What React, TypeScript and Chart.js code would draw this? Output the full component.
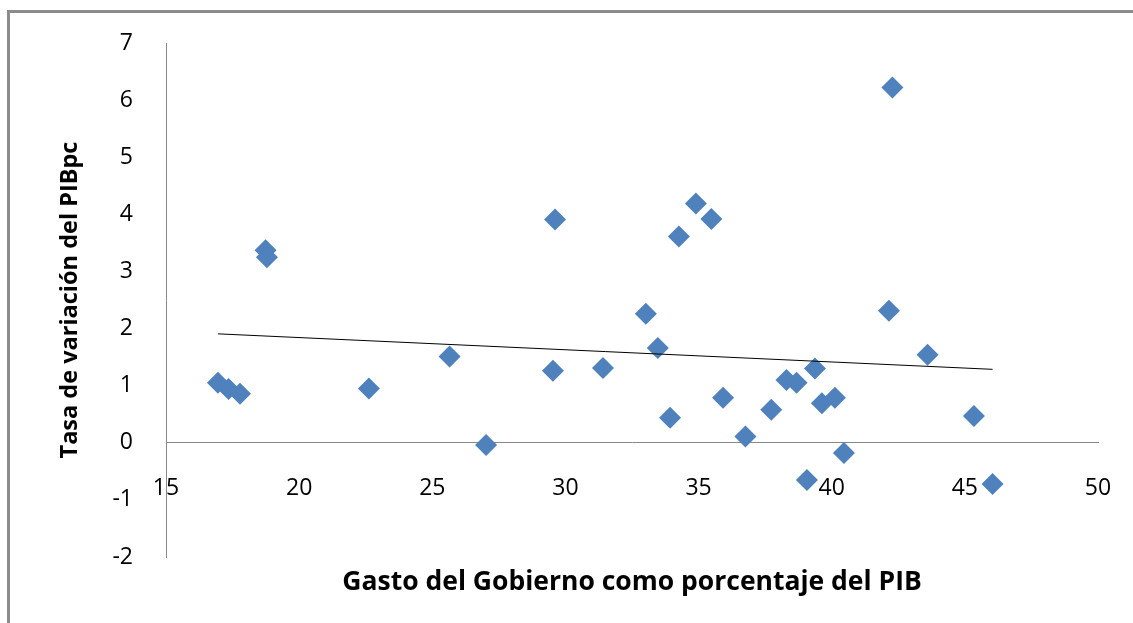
import { useEffect, useRef } from "react";
import { Chart, registerables } from "chart.js";

Chart.register(...registerables);

// Gasto del Gobierno como porcentaje del PIB (x)
const gastoPIB = [
  16.95, 17.35, 17.78, 18.74, 18.79, 22.62, 25.65, 27.02, 29.53, 29.61, 31.41,
  33.02, 33.47, 33.93, 34.26, 34.9, 35.48, 35.92, 36.76, 37.73, 38.3, 38.68,
  39.07, 39.37, 39.63, 40.12, 40.46, 42.15, 42.28, 43.6, 45.34, 46.04,
];
// Tasa de variación del PIBpc (y)
const tasaPIBpc = [
  1.05, 0.94, 0.86, 3.37, 3.25, 0.95, 1.51, -0.04, 1.26, 3.91, 1.31, 2.26,
  1.66, 0.44, 3.61, 4.19, 3.92, 0.79, 0.11, 0.58, 1.1, 1.05, -0.65, 1.3,
  0.69, 0.79, -0.18, 2.31, 6.22, 1.54, 0.47, -0.72,
];
const xTicks = [15, 20, 25, 30, 35, 40, 45, 50];
const yTicks = [-2, -1, 0, 1, 2, 3, 4, 5, 6, 7];
const xTitle = "Gasto del Gobierno como porcentaje del PIB";
const yTitle = "Tasa de variación del PIBpc";

// Linear (least squares) trend line over the data range, as the spreadsheet draws it
function linearTrend(xs: number[], ys: number[]) {
  const n = xs.length;
  const mx = xs.reduce((a, b) => a + b, 0) / n;
  const my = ys.reduce((a, b) => a + b, 0) / n;
  let sxy = 0;
  let sxx = 0;
  for (let i = 0; i < n; i++) {
    sxy += (xs[i] - mx) * (ys[i] - my);
    sxx += (xs[i] - mx) * (xs[i] - mx);
  }
  const b = sxy / sxx;
  const a = my - b * mx;
  const x0 = Math.min(...xs);
  const x1 = Math.max(...xs);
  return [
    { x: x0, y: a + b * x0 },
    { x: x1, y: a + b * x1 },
  ];
}

const FONT = "'Open Sans', sans-serif";

export default function App() {
  const ref = useRef<HTMLCanvasElement | null>(null);

  useEffect(() => {
    if (!ref.current) return;
    const points = gastoPIB.map((x, i) => ({ x, y: tasaPIBpc[i] }));
    const chart = new Chart(ref.current, {
      type: "scatter",
      data: {
        datasets: [
          {
            type: "line",
            data: linearTrend(gastoPIB, tasaPIBpc),
            borderColor: "#000000",
            borderWidth: 1,
            pointRadius: 0,
            fill: false,
            xAxisID: "x",
            yAxisID: "y",
            order: 0,
          } as any,
          {
            data: points,
            pointStyle: "rectRot",
            pointRadius: 11,
            pointHoverRadius: 11,
            backgroundColor: "#4F81BD",
            borderWidth: 0,
            xAxisID: "x",
            yAxisID: "y",
            order: 1,
          },
        ],
      },
      options: {
        responsive: false,
        animation: false,
        devicePixelRatio: 1,
        layout: { padding: { top: 43, right: 35, left: 0, bottom: 0 } },
        plugins: { legend: { display: false }, tooltip: { enabled: false } },
        scales: {
          x: {
            type: "linear",
            position: { y: 0 } as any,
            min: 15,
            max: 50,
            afterBuildTicks: (s: any) => {
              s.ticks = xTicks.map((v) => ({ value: v }));
            },
            afterFit: (s: any) => {
              s.paddingLeft = 0;
              s.paddingRight = 0;
            },
            grid: { display: false, drawTicks: true, tickLength: 32 },
            border: { display: true, color: "#888888", width: 1 },
            ticks: {
              padding: 0,
              color: "#000",
              maxRotation: 0,
              autoSkip: false,
              font: { family: FONT, size: 23, lineHeight: 1.2 },
            },
          },
          x2: {
            type: "linear",
            axis: "x",
            position: "bottom",
            min: 15,
            max: 50,
            grid: { display: false, drawTicks: false },
            border: { display: false },
            ticks: { display: false },
            title: {
              display: true,
              text: xTitle,
              color: "#000",
              font: { family: FONT, size: 26.5, weight: "bold", lineHeight: 1.2 },
              padding: { top: 0, bottom: 25 },
            },
            afterFit: (s: any) => {
              s.height = 66;
              s.paddingLeft = 0;
              s.paddingRight = 0;
            },
          } as any,
          y: {
            type: "linear",
            position: "left",
            min: -2,
            max: 7,
            afterBuildTicks: (s: any) => {
              s.ticks = yTicks.map((v) => ({ value: v }));
            },
            grid: { display: false, drawTicks: false },
            border: { display: true, color: "#888888", width: 1 },
            ticks: {
              padding: 33,
              color: "#000",
              autoSkip: false,
              font: { family: FONT, size: 23, lineHeight: 1.2 },
            },
            title: {
              display: true,
              text: yTitle,
              color: "#000",
              font: { family: FONT, size: 23.5, weight: "bold", lineHeight: 1.2 },
              padding: { top: 56, bottom: 0 },
            },
            afterFit: (s: any) => {
              s.width = 166;
              s.paddingTop = 0;
              s.paddingBottom = 0;
            },
          },
        },
      },
    });
    return () => chart.destroy();
  }, []);

  return (
    <div
      style={{
        position: "fixed",
        left: 0,
        top: 0,
        width: 1133,
        height: 623,
        overflow: "hidden",
        background: "#ffffff",
      }}
    >
      <div
        style={{
          position: "absolute",
          left: 7,
          top: 10,
          width: 1400,
          height: 900,
          borderLeft: "3px solid #8c8c8c",
          borderTop: "3px solid #8c8c8c",
          boxSizing: "border-box",
        }}
      />
      <canvas
        ref={ref}
        width={1133}
        height={623}
        style={{ position: "absolute", left: 0, top: 0, display: "block" }}
      />
    </div>
  );
}
